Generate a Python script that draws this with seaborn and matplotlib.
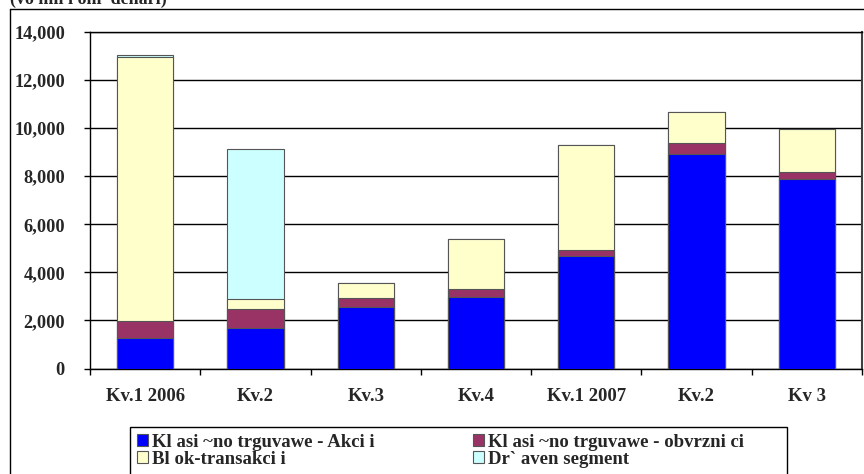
import matplotlib
matplotlib.use("Agg")
import matplotlib.pyplot as plt
import seaborn as sns
import numpy as np
import pandas as pd
from matplotlib.lines import Line2D
from matplotlib.patches import Patch, Rectangle

categories = ["Kv.1 2006", "Kv.2", "Kv.3", "Kv.4", "Kv.1 2007", "Kv.2 ", "Kv 3"]
tick_labels = ["Kv.1 2006", "Kv.2", "Kv.3", "Kv.4", "Kv.1 2007", "Kv.2", "Kv 3"]
akcii = [1260, 1690, 2570, 2990, 4690, 8920, 7880]
obvrznici = [730, 790, 370, 300, 240, 480, 310]
blok = [10960, 400, 600, 2080, 4370, 1280, 1760]
drzaven = [80, 6240, 0, 0, 0, 0, 0]
series_names = ["Kl asi ~no trguvawe - Akci i", "Kl asi ~no trguvawe - obvrzni ci",
                "Bl ok-transakci i", "Dr` aven segment"]
colors = ["#0000FF", "#993366", "#FFFFCC", "#CCFFFF"]
title_text = "(vo mil i oni  denari)"

sns.set_style("white")
plt.rcParams["font.family"] = ["Liberation Serif", "DejaVu Serif"]

fig = plt.figure(figsize=(8.64, 4.74), dpi=100)
W, H = 864, 474
ax = fig.add_axes([90 / W, 1 - 368.5 / H, (862 - 90) / W, (368.5 - 32) / H])

df = pd.DataFrame({"cat": categories, "a": akcii, "o": obvrznici, "b": blok, "d": drzaven})
c1 = df["a"]
c2 = c1 + df["o"]
c3 = c2 + df["b"]
c4 = c3 + df["d"]
layers = [(c4, colors[3]), (c3, colors[2]), (c2, colors[1]), (c1, colors[0])]
for vals, col in layers:
    sns.barplot(x=df["cat"], y=vals, color=col, width=0.51, edgecolor="#555555",
                linewidth=0.8, saturation=1, ax=ax, zorder=3, order=categories)

ax.set_ylim(0, 14000)
ax.set_xlim(-0.5, 6.5)
ax.set_yticks(np.arange(0, 14001, 2000))
ax.set_yticklabels([f"{v:,}" for v in range(0, 14001, 2000)], fontsize=13.2, fontweight="bold")
ax.yaxis.grid(True, color="black", linewidth=1, zorder=0)
ax.set_axisbelow(True)
ax.set_xticks(np.arange(-0.5, 7, 1))
ax.set_xticklabels([])
ax.tick_params(axis="x", length=4, width=1, color="black", direction="out", bottom=True)
ax.tick_params(axis="y", length=4, width=1, color="black", direction="out", left=True, pad=14)
for i, lab in enumerate(tick_labels):
    ax.text(i, -0.084, lab, transform=ax.get_xaxis_transform(), ha="center", va="center",
            fontsize=13.5, fontweight="bold")
ax.set_xlabel("")
ax.set_ylabel("")
for s in ["left", "bottom", "top"]:
    ax.spines[s].set_color("black")
    ax.spines[s].set_linewidth(1)
ax.spines["right"].set_color("#404040")
ax.spines["right"].set_linewidth(1.5)

# outer chart frame
fig.add_artist(Line2D([10 / W, 10 / W], [0, 1 - 9 / H], color="black", lw=1, transform=fig.transFigure))
fig.add_artist(Line2D([10 / W, 1], [1 - 9 / H, 1 - 9 / H], color="black", lw=1, transform=fig.transFigure))

fig.text(10 / W, 1 - 4 / H, title_text, ha="left", va="baseline", fontsize=13, fontweight="bold")

# legend frame
fig.add_artist(Rectangle((130 / W, -0.05), (787 - 130) / W, (1 - 427 / H) + 0.05,
                         transform=fig.transFigure, facecolor="white", edgecolor="black", lw=1))

handles = [Patch(facecolor=colors[0], edgecolor="#555555", lw=0.8),
           Patch(facecolor=colors[2], edgecolor="#555555", lw=0.8),
           Patch(facecolor=colors[1], edgecolor="#555555", lw=0.8),
           Patch(facecolor=colors[3], edgecolor="#555555", lw=0.8)]
labels = [series_names[0], series_names[2], series_names[1], series_names[3]]
leg = fig.legend(handles, labels, loc="upper left", ncol=2,
                 bbox_to_anchor=(130 / W, 1 - 427 / H),
                 bbox_transform=fig.transFigure, prop={"size": 13.5, "weight": "bold"},
                 frameon=False,
                 handlelength=0.6, handleheight=0.6, handletextpad=0.25,
                 labelspacing=0.0, borderpad=0.35, borderaxespad=0, columnspacing=5.2)

fig.savefig("out.png", dpi=100)
